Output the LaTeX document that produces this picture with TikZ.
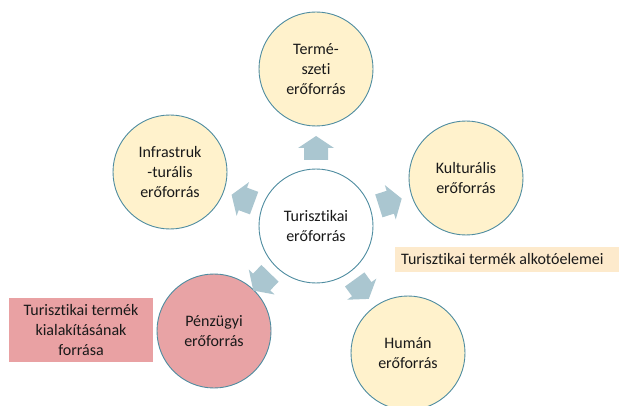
\documentclass[tikz,border=0pt]{standalone}
\usepackage{fontspec}
\setmainfont{Carlito}[RawFeature={-liga}]
\usetikzlibrary{calc}
\definecolor{ring}{RGB}{78,140,160}
\definecolor{cream}{RGB}{255,242,204}
\definecolor{rose}{RGB}{232,163,165}
\definecolor{arrowc}{RGB}{170,198,208}
\definecolor{labyel}{RGB}{253,234,204}
\definecolor{labrose}{RGB}{233,161,163}
\definecolor{txt}{RGB}{25,25,25}
\tikzset{
  res/.style={circle, draw=ring, line width=0.9pt, fill=cream, minimum size=114pt,
    inner sep=0pt, align=center, text=txt, font=\fontsize{16}{20}\selectfont},
  lab/.style={inner sep=0pt, align=center, text=txt, font=\fontsize{16}{20}\selectfont},
  blockarrow/.style={fill=arrowc, draw=none}
}
\newcommand{\radarrow}[3]{%
  \begin{scope}[shift={($(#1)!78pt!(#2)$)}, rotate=#3]
    \fill[blockarrow] (-12,-12) -- (0,-12) -- (0,-18) -- (12,0) -- (0,18) -- (0,12) -- (-12,12) -- cycle;
  \end{scope}}
\begin{document}
\begin{tikzpicture}[x=1pt,y=1pt]
\useasboundingbox (0,0) rectangle (619,405);
\node[res, fill=white] (c) at (316,179) {Turisztikai\\erőforrás};
\node[res] (T) at (316,336) {Termé-\\szeti\\erőforrás};
\node[res] (I) at (170,233) {Infrastruk\\-turális\\erőforrás};
\node[res] (K) at (466,227) {Kulturális\\erőforrás};
\node[res, fill=rose] (P) at (214,74) {Pénzügyi\\erőforrás};
\node[res] (H) at (408,52) {Humán\\erőforrás};
\radarrow{c}{T}{90}
\radarrow{c}{I}{159.7}
\radarrow{c}{K}{17.7}
\radarrow{c}{P}{225.8}
\radarrow{c}{H}{-54.1}
\fill[labyel] (395,133) rectangle (619,158);
\node[lab, anchor=west] (la) at (401,145.5) {Turisztikai termék alkotóelemei};
\fill[labrose] (9,43) rectangle (153,107);
\node[lab] (lb) at (81,75) {Turisztikai termék\\kialakításának\\forrása};
\end{tikzpicture}
\end{document}
